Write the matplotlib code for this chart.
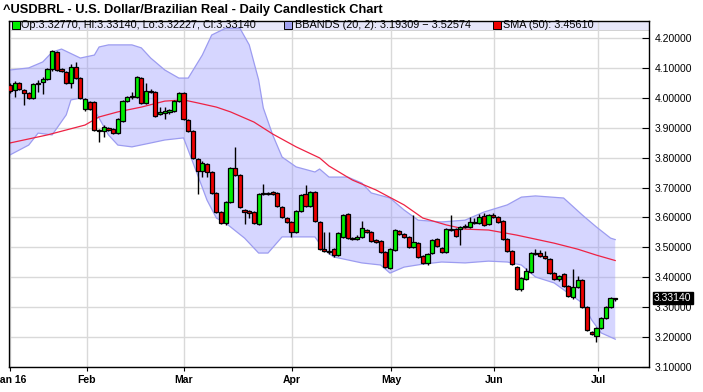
import numpy as np
import matplotlib.pyplot as plt
from matplotlib.patches import Rectangle

plt.rcParams['font.family'] = ['Liberation Sans', 'DejaVu Sans']

title = "^USDBRL - U.S. Dollar/Brazilian Real - Daily Candlestick Chart"
month_pos = [0, 16.4, 37.1, 60.1, 81.2, 103.2, 125.4]
month_labels = ['Jan 16', 'Feb', 'Mar', 'Apr', 'May', 'Jun', 'Jul']
price_ticks = [3.1, 3.2, 3.3, 3.4, 3.5, 3.6, 3.7, 3.8, 3.9, 4.0, 4.1, 4.2]

# daily OHLC
opens = [4.043, 4.026, 4.050, 4.026, 4.016, 3.999, 4.046, 4.053, 4.063, 4.096,
         4.153, 4.096, 4.086, 4.050, 4.103, 4.066, 3.963, 3.986, 3.986, 3.892,
         3.889, 3.899, 3.896, 3.882, 3.922, 3.989, 4.003, 4.003, 4.066, 3.983,
         4.023, 4.019, 3.946, 3.949, 3.953, 3.956, 3.989, 4.016, 3.926, 3.889,
         3.795, 3.755, 3.779, 3.752, 3.682, 3.618, 3.581, 3.652, 3.765, 3.742,
         3.625, 3.622, 3.618, 3.578, 3.682, 3.678, 3.685, 3.682, 3.635, 3.598,
         3.585, 3.551, 3.622, 3.678, 3.638, 3.685, 3.585, 3.494, 3.484, 3.494,
         3.474, 3.535, 3.611, 3.531, 3.528, 3.535, 3.558, 3.551, 3.525, 3.521,
         3.484, 3.431, 3.491, 3.555, 3.545, 3.535, 3.501, 3.515, 3.471, 3.448,
         3.481, 3.528, 3.498, 3.484, 3.558, 3.561, 3.561, 3.568, 3.568, 3.581,
         3.581, 3.605, 3.578, 3.608, 3.601, 3.588, 3.528, 3.488, 3.434, 3.361,
         3.394, 3.418, 3.481, 3.481, 3.471, 3.461, 3.414, 3.394, 3.411, 3.371,
         3.334, 3.367, 3.391, 3.301, 3.217, 3.204, 3.230, 3.264, 3.301, 3.3277]
highs = [4.048, 4.055, 4.053, 4.030, 4.020, 4.050, 4.058, 4.068, 4.100, 4.160,
         4.157, 4.100, 4.090, 4.112, 4.120, 4.070, 4.000, 3.990, 3.990, 3.895,
         3.910, 3.902, 3.899, 3.932, 3.993, 4.006, 4.020, 4.073, 4.070, 4.050,
         4.030, 4.023, 3.970, 3.970, 3.963, 3.993, 4.020, 4.020, 3.929, 3.892,
         3.799, 3.789, 3.782, 3.755, 3.685, 3.621, 3.655, 3.768, 3.836, 3.745,
         3.628, 3.625, 3.621, 3.682, 3.712, 3.685, 3.689, 3.685, 3.638, 3.601,
         3.588, 3.625, 3.678, 3.708, 3.688, 3.688, 3.588, 3.551, 3.551, 3.498,
         3.551, 3.611, 3.615, 3.535, 3.540, 3.588, 3.562, 3.555, 3.528, 3.525,
         3.488, 3.498, 3.561, 3.558, 3.548, 3.538, 3.608, 3.518, 3.474, 3.481,
         3.528, 3.531, 3.501, 3.565, 3.608, 3.565, 3.571, 3.578, 3.601, 3.598,
         3.611, 3.615, 3.611, 3.615, 3.605, 3.591, 3.531, 3.491, 3.438, 3.401,
         3.431, 3.484, 3.494, 3.491, 3.488, 3.464, 3.418, 3.408, 3.414, 3.374,
         3.428, 3.404, 3.394, 3.304, 3.220, 3.233, 3.267, 3.304, 3.334, 3.3314]
lows = [4.015, 4.003, 4.025, 3.976, 3.995, 3.995, 4.019, 4.013, 4.060, 4.090,
        4.090, 4.086, 4.046, 4.033, 4.062, 3.995, 3.955, 3.958, 3.889, 3.852,
        3.869, 3.889, 3.879, 3.879, 3.919, 3.986, 3.995, 3.999, 3.979, 3.979,
        4.016, 3.936, 3.942, 3.930, 3.946, 3.953, 3.986, 3.926, 3.886, 3.795,
        3.678, 3.735, 3.735, 3.679, 3.615, 3.578, 3.575, 3.648, 3.738, 3.631,
        3.578, 3.598, 3.578, 3.575, 3.675, 3.675, 3.675, 3.635, 3.598, 3.581,
        3.535, 3.548, 3.618, 3.635, 3.635, 3.585, 3.491, 3.484, 3.478, 3.468,
        3.471, 3.531, 3.528, 3.524, 3.524, 3.531, 3.548, 3.518, 3.514, 3.481,
        3.431, 3.428, 3.488, 3.541, 3.531, 3.498, 3.498, 3.464, 3.444, 3.441,
        3.478, 3.501, 3.481, 3.481, 3.555, 3.535, 3.508, 3.565, 3.565, 3.578,
        3.578, 3.571, 3.575, 3.598, 3.581, 3.524, 3.484, 3.441, 3.357, 3.354,
        3.391, 3.414, 3.474, 3.468, 3.461, 3.411, 3.391, 3.388, 3.368, 3.334,
        3.328, 3.364, 3.297, 3.220, 3.207, 3.184, 3.227, 3.261, 3.297, 3.32227]
closes = [4.023, 4.050, 4.030, 4.016, 3.999, 4.046, 4.050, 4.063, 4.096, 4.157,
          4.093, 4.090, 4.050, 4.103, 4.066, 3.999, 3.996, 3.963, 3.892, 3.889,
          3.902, 3.892, 3.882, 3.929, 3.989, 4.003, 4.006, 4.070, 3.983, 4.023,
          4.019, 3.939, 3.953, 3.956, 3.959, 3.989, 4.016, 3.929, 3.889, 3.799,
          3.755, 3.782, 3.752, 3.682, 3.618, 3.581, 3.652, 3.765, 3.742, 3.635,
          3.618, 3.615, 3.581, 3.678, 3.678, 3.682, 3.678, 3.638, 3.601, 3.585,
          3.551, 3.622, 3.675, 3.638, 3.685, 3.588, 3.494, 3.488, 3.488, 3.474,
          3.548, 3.608, 3.531, 3.528, 3.535, 3.565, 3.551, 3.521, 3.518, 3.484,
          3.434, 3.494, 3.558, 3.545, 3.535, 3.501, 3.518, 3.468, 3.448, 3.478,
          3.525, 3.504, 3.484, 3.561, 3.561, 3.538, 3.568, 3.571, 3.585, 3.585,
          3.601, 3.575, 3.608, 3.601, 3.585, 3.528, 3.488, 3.444, 3.361, 3.397,
          3.421, 3.481, 3.478, 3.471, 3.464, 3.414, 3.394, 3.404, 3.371, 3.337,
          3.367, 3.391, 3.301, 3.224, 3.210, 3.230, 3.264, 3.301, 3.331, 3.3314]

# bollinger band edges (sampled at candle index)
bb_up_idx = [0, 4, 7, 9, 11, 15, 18, 19, 21, 26, 28, 30, 33, 36, 38, 41, 43, 46, 49,
             51, 53, 54, 56, 58, 61, 65, 66, 68, 72, 75, 77, 81, 84, 87, 92, 97, 101,
             106, 109, 112, 118, 122, 125, 128, 129]
bb_up = [4.093, 4.100, 4.120, 4.153, 4.163, 4.133, 4.143, 4.170, 4.177, 4.177, 4.167,
         4.133, 4.093, 4.066, 4.066, 4.143, 4.210, 4.233, 4.233, 4.177, 4.060, 3.966,
         3.876, 3.802, 3.769, 3.752, 3.762, 3.735, 3.735, 3.715, 3.682, 3.665, 3.625,
         3.591, 3.585, 3.591, 3.618, 3.642, 3.668, 3.672, 3.665, 3.608, 3.568, 3.531,
         3.526]
bb_lo_idx = [0, 4, 6, 9, 12, 13, 15, 17, 19, 21, 23, 26, 30, 33, 37, 38, 40, 42, 44,
             46, 50, 53, 55, 58, 61, 65, 67, 69, 72, 75, 79, 81, 84, 88, 92, 97, 102,
             106, 109, 112, 116, 119, 122, 124, 126, 129]
bb_lo = [3.809, 3.842, 3.882, 3.876, 3.943, 3.993, 3.999, 3.986, 3.932, 3.876, 3.842,
         3.836, 3.849, 3.859, 3.866, 3.825, 3.742, 3.658, 3.598, 3.581, 3.531, 3.481,
         3.481, 3.535, 3.535, 3.535, 3.491, 3.468, 3.458, 3.448, 3.441, 3.414, 3.434,
         3.444, 3.451, 3.448, 3.454, 3.451, 3.441, 3.401, 3.381, 3.347, 3.314, 3.257,
         3.214, 3.193]

# 50 day simple moving average
sma_idx = [0, 8, 16, 19, 23, 28, 33, 37, 40, 44, 47, 52, 56, 61, 66, 68, 73, 78,
           84, 88, 93, 97, 102, 108, 116, 121, 125, 129]
sma_val = [3.849, 3.876, 3.909, 3.936, 3.953, 3.969, 3.989, 3.993, 3.983, 3.969,
           3.953, 3.919, 3.879, 3.836, 3.799, 3.772, 3.725, 3.692, 3.642, 3.598,
           3.575, 3.561, 3.558, 3.541, 3.514, 3.494, 3.474, 3.456]

legend_ohlc = "Op:3.32770, Hi:3.33140, Lo:3.32227, Cl:3.33140"
legend_bb = "BBANDS (20, 2): 3.19309 \u2212 3.52574"
legend_sma = "SMA (50): 3.45610"
last_label = "3.33140"

W, H = 703, 392
fig = plt.figure(figsize=(W / 100, H / 100), dpi=100)
ax = fig.add_axes([9 / W, 25 / H, 640 / W, 346 / H])

o = np.array(opens)
c = np.array(closes)
hi = np.array(highs)
lo = np.array(lows)
x = np.arange(len(o))

# band
px = np.r_[bb_up_idx, bb_lo_idx[::-1]]
py = np.r_[bb_up, bb_lo[::-1]]
ax.fill(px, py, color=(0.55, 0.55, 1.0), alpha=0.35, lw=0, zorder=1)
ax.plot(bb_up_idx, bb_up, color='#9c9cf0', lw=0.9, zorder=1.2)
ax.plot(bb_lo_idx, bb_lo, color='#9c9cf0', lw=0.9, zorder=1.2)

ax.plot(sma_idx, sma_val, color='#ee2244', lw=0.9, zorder=2)

# candles
up = c >= o
ax.vlines(x, lo, hi, color='black', lw=1.0, zorder=3)
body_h = np.maximum(np.abs(c - o), 0.002)
ax.bar(x, body_h, bottom=np.minimum(o, c), width=0.88,
       color=np.where(up, '#00ee00', '#ee0000'), edgecolor='black', lw=0.9, zorder=4)

ax.set_xlim(-0.2, 136.2)
ax.set_ylim(3.1, 4.2 + 17 / 299)

ax.set_axisbelow(True)
ax.set_yticks(price_ticks)
ax.set_yticklabels(['%.5f' % v for v in price_ticks])
ax.set_xticks(month_pos)
ax.set_xticklabels(month_labels, fontweight='bold')
ax.grid(True, color='#d9d9d9', lw=1.0)
ax.yaxis.tick_right()
ax.tick_params(axis='y', direction='in', length=5, pad=4, labelsize=7.5, right=True, left=False)
ax.tick_params(axis='x', direction='out', length=3, pad=3, labelsize=7.5)
for s in ax.spines.values():
    s.set_linewidth(1.0)
    s.set_color('black')

# legend row
row_h = 9 / 346
ax.add_patch(Rectangle((0, 1 - row_h), 1, row_h, transform=ax.transAxes,
                       facecolor='#e6e6fa', edgecolor='#cccccc', lw=0.6, zorder=0.2))
yy = 1 - row_h / 2
entries = [(16, '#00ee00', 21, legend_ohlc), (288, '#a0a0f0', 295, legend_bb),
           (497, '#ee0000', 503, legend_sma)]
for mx, col, tx, txt in entries:
    ax.plot([(mx - 9) / 640], [yy], marker='s', ms=5.5, mfc=col, mec='black', mew=0.7,
            transform=ax.transAxes, zorder=6, clip_on=False)
    ax.text((tx - 9) / 640, yy, txt, transform=ax.transAxes, fontsize=7.8,
            va='center', ha='left', zorder=6)

# last price tag on the axis
ax.text(1.0 + 5 / 640, closes[-1], last_label, transform=ax.get_yaxis_transform(),
        fontsize=7.5, color='white', va='center', ha='left',
        bbox=dict(boxstyle='square,pad=0.12', fc='black', ec='black'))

fig.text(3 / W, 1 - 10 / H, title, fontsize=9.3, fontweight='bold', va='center', ha='left')

fig.savefig('out.png', dpi=100)
